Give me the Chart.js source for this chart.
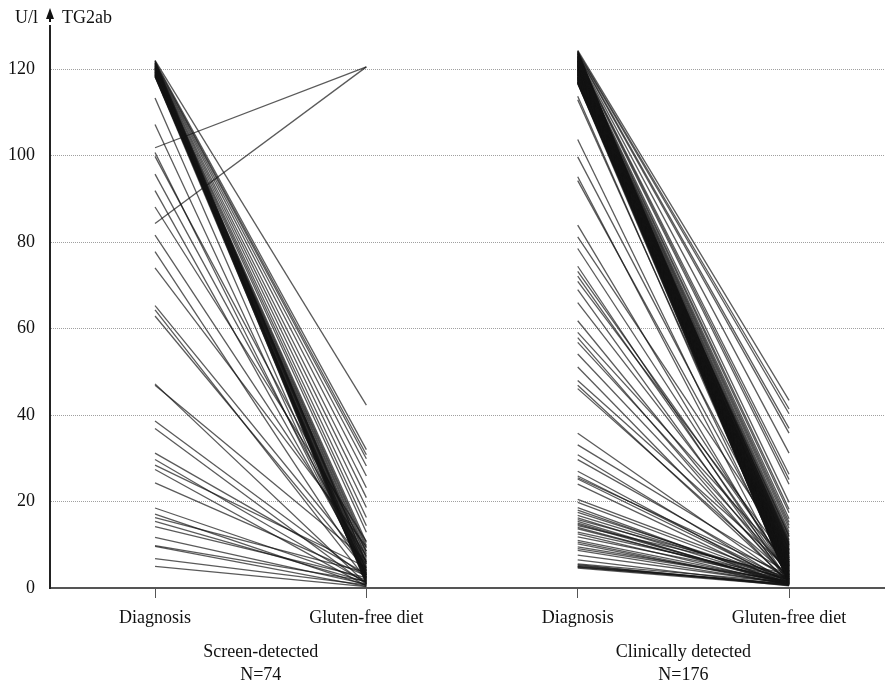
<!DOCTYPE html>
<html>
<head>
<meta charset="utf-8">
<title>TG2ab at diagnosis and on gluten-free diet</title>
<script src="https://cdn.jsdelivr.net/npm/chart.js@4.4.1/dist/chart.umd.min.js"></script>
<style>
    body { margin: 0; background: #fff; }
    canvas { display: block; }
</style>
</head>
<body>
<canvas id="tg2Chart" width="885" height="690"></canvas>
<script>
const xLabels = ['Diagnosis', 'Gluten-free diet', 'Diagnosis', 'Gluten-free diet'];
const groupNames = ['Screen-detected', 'Clinically detected'];
const yTicks = [0, 20, 40, 60, 80, 100, 120];

// screen-detected, U/l at diagnosis and on gluten-free diet (paired)
const screenDiagnosis = [
    122, 121.8, 121.5, 121.3, 121, 120.8, 120.6, 120.4, 120.2, 120,
    120, 119.8, 119.6, 119.4, 119.2, 119, 118.8, 118.6, 118.4, 118.2,
    121.9, 121.6, 121.2, 120.9, 120.5, 120.1, 119.9, 119.5, 119.1, 118.7,
    118.3, 121.4, 120.7, 120.3, 119.7, 119.3, 118.9, 118.5, 121.1, 120.2,
    113.3, 107.2, 101.8, 100.7, 99.8, 95.7, 91.9, 88.1, 84.3, 81.6,
    77.8, 74, 65.3, 64.3, 62.9, 47.2, 46.9, 38.6, 36.9, 31.2,
    29.7, 28.4, 27.4, 24.3, 18.5, 17.1, 16.3, 15.4, 14.2, 11.7,
    9.8, 9.6, 6.8, 5.0
];
const screenGfd = [
    42.3, 32, 30.8, 29.9, 28.2, 25.9, 23.2, 20.9, 18.6, 16.3,
    14.4, 12.9, 10.5, 9.8, 9.2, 8.5, 7.9, 7.2, 6.8, 6.1,
    5.5, 5.0, 4.6, 4.2, 3.8, 3.5, 3.2, 2.9, 2.6, 2.3,
    2.0, 1.8, 1.5, 1.2, 1.0, 0.8, 3.0, 4.0, 5.8, 2.5,
    1.5, 2.2, 120.5, 3.0, 8.5, 6.0, 4.5, 10.8, 120.5, 7.5,
    3.5, 9.5, 5.5, 2.0, 4.0, 1.0, 6.5, 2.5, 0.8, 3.2,
    1.2, 4.8, 0.5, 2.8, 1.8, 0.6, 3.6, 1.4, 2.4, 0.9,
    1.6, 0.4, 0.7, 0.3
];

// clinically detected
const clinicalDiagnosis = [
    124.3, 124.0, 123.8, 123.5, 123.3, 123.0, 122.8, 122.6, 122.4, 122.2,
    122.0, 121.8, 121.6, 121.4, 121.2, 121.0, 120.8, 120.6, 120.4, 120.2,
    120.0, 119.8, 119.6, 119.4, 119.2, 119.0, 118.8, 118.6, 118.4, 118.2,
    118.0, 117.8, 117.6, 117.4, 117.2, 117.0, 116.8, 116.6, 123.9, 123.6,
    123.1, 122.7, 122.3, 121.9, 121.5, 121.1, 120.7, 120.3, 119.9, 119.5,
    119.1, 118.7, 118.3, 117.9, 117.5, 117.1, 116.7, 124.1, 123.4, 122.9,
    122.5, 122.1, 121.7, 121.3, 120.9, 120.5, 120.1, 119.7, 119.3, 118.9,
    118.5, 118.1, 117.7, 117.3, 116.9, 123.7, 123.2, 122.5, 121.8, 121.2,
    120.6, 120.0, 119.4, 118.8, 118.2, 117.6, 117.0, 123.0, 122.0, 121.0,
    120.0, 119.0, 118.0, 117.0, 124.2, 122.2, 120.2, 118.2, 121.4, 119.6,
    120.8,
    123.5, 121.9, 120.4, 119.2, 117.8, 122.7, 120.9, 118.6, 121.6, 119.8,
    113.7, 112.9, 103.7, 99.7, 95.1, 94.2, 83.9, 81.2, 78.5, 74.4,
    73.2, 72.1, 70.9, 69.0, 66.0, 61.8, 59.1, 57.9, 56.8, 54.1,
    51.1, 48.0, 46.9, 46.1, 35.8, 33.1, 30.8, 29.7, 27.0, 25.9,
    25.5, 25.2, 24.0, 20.5, 19.8, 18.6, 17.5, 16.2, 15.8, 15.4,
    15.0, 14.4, 14.0, 13.7, 12.5, 11.8, 11.0, 10.2, 9.5, 8.7,
    7.6, 6.5, 5.6, 5.4, 5.2, 5.0, 4.9, 4.8, 4.6, 12.9,
    16.8, 18.0, 10.6, 9.1, 14.7
];
const clinicalGfd = [
    43.4, 41.4, 40.3, 36.9, 35.8, 31.2, 26.3, 25.1, 24.0, 19.8,
    18.2, 17.4, 16.0, 15.2, 14.5, 13.8, 13.0, 12.4, 11.8, 11.2,
    10.6, 10.1, 9.7, 9.3, 8.9, 8.5, 8.2, 7.9, 7.6, 7.3,
    7.0, 6.8, 6.5, 6.3, 6.0, 5.8, 5.6, 5.4, 5.2, 5.0,
    4.8, 4.6, 4.4, 4.2, 4.0, 3.8, 3.6, 3.4, 3.2, 3.0,
    2.8, 2.6, 2.4, 2.2, 2.0, 1.8, 1.6, 1.4, 1.2, 1.0,
    9.0, 8.0, 7.0, 6.0, 5.0, 4.0, 3.0, 2.0, 1.5, 0.8,
    11.0, 9.5, 8.7, 7.4, 6.6, 5.5, 4.5, 3.5, 2.5, 1.7,
    10.4, 8.4, 6.9, 5.9, 4.9, 3.9, 2.9, 1.9, 0.9, 0.6,
    7.8, 6.2, 5.3, 4.3, 3.3, 2.3, 1.3, 12.0, 10.0, 8.8,
    5.7,
    7.2, 4.7, 3.7, 2.7, 1.1, 6.4, 5.1, 9.9, 3.1, 2.1,
    2.5, 4.0, 3.2, 6.5, 1.8, 5.2, 2.2, 8.0, 3.6, 1.5,
    4.4, 2.8, 6.0, 1.2, 3.0, 2.0, 5.5, 1.6, 3.8, 2.4,
    1.0, 4.2, 1.4, 2.6, 1.8, 3.4, 1.1, 2.2, 0.9, 1.7,
    2.9, 1.3, 0.8, 2.1, 1.5, 0.7, 1.9, 1.2, 2.6, 0.6,
    1.0, 3.1, 0.9, 1.4, 0.8, 2.0, 1.2, 0.7, 1.6, 0.9,
    1.1, 0.6, 1.3, 0.5, 0.8, 1.0, 0.7, 0.9, 0.6, 2.3,
    1.8, 1.1, 0.8, 1.5, 1.0
];

const FONT = '"Liberation Serif", "Times New Roman", serif';
const LINE = 'rgba(20,20,20,0.7)';

function pairLines(diag, gfd, xStart) {
    return diag.map((d, i) => ({
        data: [{ x: xStart, y: d }, { x: xStart + 1, y: gfd[i] }],
        borderColor: LINE,
        borderWidth: 1.3,
        pointRadius: 0,
        fill: false
    }));
}

const datasets = pairLines(screenDiagnosis, screenGfd, 1)
    .concat(pairLines(clinicalDiagnosis, clinicalGfd, 3));

const labelsPlugin = {
    id: 'labels',
    afterDraw(chart) {
        const ctx = chart.ctx;
        const x = chart.scales.x;
        const left = chart.chartArea.left;
        ctx.save();
        ctx.fillStyle = '#111';
        ctx.font = '18px ' + FONT;
        ctx.textBaseline = 'middle';

        // y axis arrow and units
        ctx.beginPath();
        ctx.moveTo(left, 8);
        ctx.lineTo(left - 4, 19);
        ctx.lineTo(left + 4, 19);
        ctx.closePath();
        ctx.fill();
        ctx.fillRect(left - 1, 18, 2, 4);
        ctx.textAlign = 'right';
        ctx.fillText('U/l', left - 12, 18);
        ctx.textAlign = 'left';
        ctx.fillText('TG2ab', left + 12, 18);

        // group captions
        ctx.textAlign = 'center';
        const groups = [[screenDiagnosis, 1.5], [clinicalDiagnosis, 3.5]];
        groups.forEach(([arr, pos], i) => {
            const px = x.getPixelForValue(pos);
            ctx.fillText(groupNames[i], px, 652);
            ctx.fillText('N=' + arr.length, px, 675);
        });
        ctx.restore();
    }
};

new Chart(document.getElementById('tg2Chart'), {
    type: 'line',
    data: { datasets: datasets },
    options: {
        responsive: false,
        animation: false,
        devicePixelRatio: 1,
        layout: { padding: { top: 20, left: 0, right: 0, bottom: 0 } },
        plugins: { legend: { display: false }, tooltip: { enabled: false } },
        scales: {
            x: {
                type: 'linear',
                min: 0.503,
                max: 4.454,
                afterBuildTicks: s => { s.ticks = [1, 2, 3, 4].map(v => ({ value: v })); },
                afterFit: s => { s.height = 102; },
                border: { color: '#555', width: 2 },
                grid: { drawOnChartArea: false, drawTicks: true, tickLength: 10, color: '#555' },
                ticks: {
                    color: '#111',
                    font: { family: FONT, size: 18 },
                    padding: 9,
                    maxRotation: 0,
                    autoSkip: false,
                    callback: v => xLabels[v - 1]
                }
            },
            y: {
                min: 0,
                max: 130,
                afterBuildTicks: s => { s.ticks = yTicks.map(v => ({ value: v })); },
                afterFit: s => { s.width = 50; },
                border: { color: '#222', width: 2, dash: [1, 1] },
                grid: {
                    drawTicks: false,
                    color: c => c.tick && c.tick.value === 0 ? 'rgba(0,0,0,0)' : '#a0a0a0',
                    lineWidth: 1
                },
                ticks: {
                    color: '#111',
                    font: { family: FONT, size: 18 },
                    padding: 15
                }
            }
        }
    },
    plugins: [labelsPlugin]
});
</script>
</body>
</html>
